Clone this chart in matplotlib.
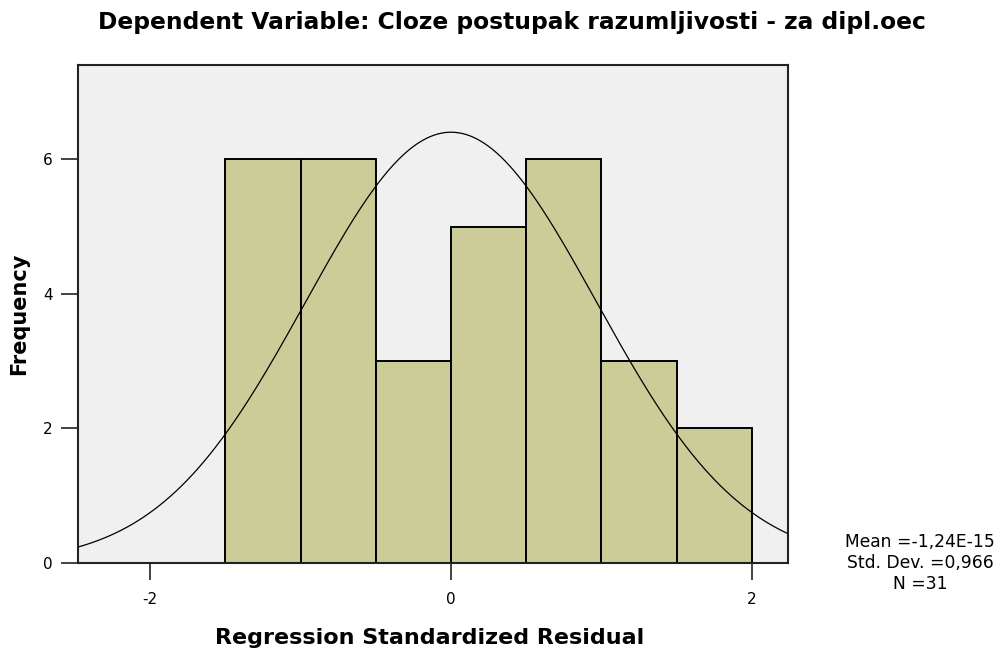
import numpy as np
import matplotlib.pyplot as plt

plt.rcParams['axes.unicode_minus'] = False

# histogram of regression standardized residuals (SPSS style)
bin_edges = [-1.5, -1.0, -0.5, 0.0, 0.5, 1.0, 1.5, 2.0]
counts = [6, 6, 3, 5, 6, 3, 2]
mean, sd, n = -1.24e-15, 0.966, 31
x_ticks = [-2, 0, 2]
y_ticks = [0, 2, 4, 6]
stats_lines = ["Mean =-1,24E-15", "Std. Dev. =0,966", "N =31"]

title = "Dependent Variable: Cloze postupak razumljivosti - za dipl.oec"
xlabel = "Regression Standardized Residual"
ylabel = "Frequency"

fig = plt.figure(figsize=(10.02, 6.53), dpi=100)
ax = fig.add_axes([78 / 1002, 1 - 563 / 653, (788 - 78) / 1002, (563 - 65) / 653])
ax.set_facecolor('#f0f0f0')

widths = np.diff(bin_edges)
ax.bar(bin_edges[:-1], counts, width=widths, align='edge',
       color='#cccc99', edgecolor='black', linewidth=1.4, zorder=2)

xlim = (-2.48, 2.24)
xs = np.linspace(xlim[0], xlim[1], 400)
bw = widths[0]
ys = n * bw / (sd * np.sqrt(2 * np.pi)) * np.exp(-0.5 * ((xs - mean) / sd) ** 2)
ax.plot(xs, ys, color='black', linewidth=0.9, zorder=3)

ax.set_xlim(*xlim)
ax.set_ylim(0, 7.4)
ax.set_xticks(x_ticks)
ax.set_yticks(y_ticks)
ax.tick_params(axis='both', length=12, width=1.2, labelsize=11, color='#222222')
ax.tick_params(axis='x', pad=9)
ax.tick_params(axis='y', pad=6)
for sp in ax.spines.values():
    sp.set_linewidth(1.5)
    sp.set_color('#222222')

ax.set_xlabel(xlabel, fontsize=16, fontweight='bold')
ax.xaxis.set_label_coords((430 - 78) / (788 - 78), -(638 - 563) / (563 - 65))
ax.xaxis.label.set_va('center')
ax.set_ylabel(ylabel, fontsize=15, fontweight='bold', labelpad=10)

fig.text(512 / 1002, 1 - 23 / 653, title, ha='center', va='center', fontsize=16.8,
         fontweight='bold')

fig.text(920 / 1002, 1 - 563 / 653, "\n".join(stats_lines), ha='center', va='center',
         fontsize=12.3, linespacing=1.2)

fig.savefig("out.png", dpi=100)
